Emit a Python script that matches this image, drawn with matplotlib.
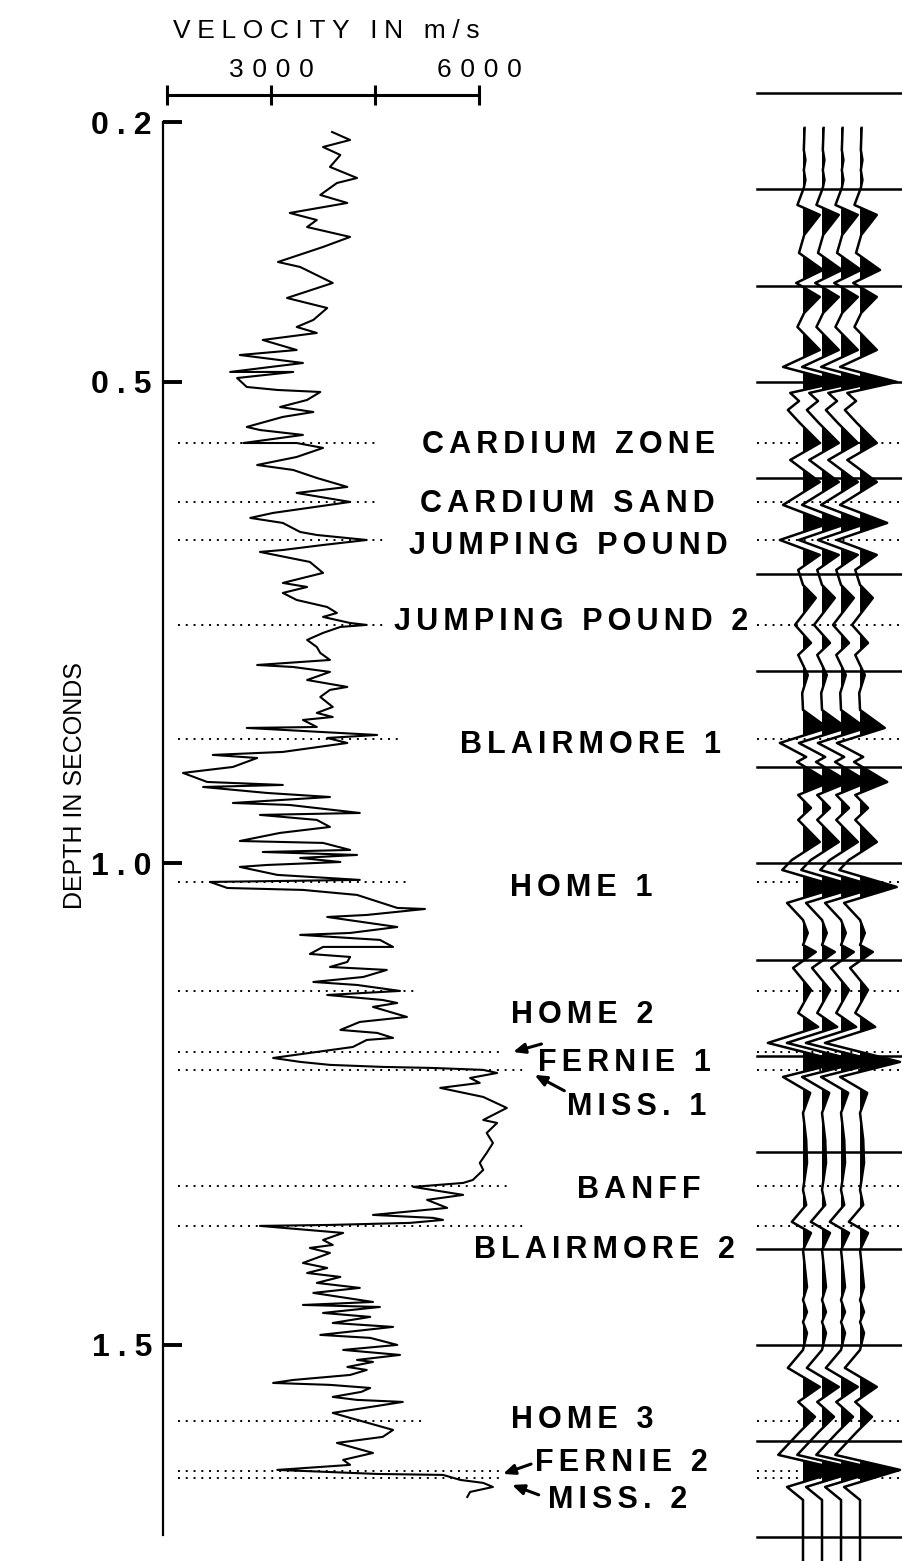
import numpy as np
import matplotlib
matplotlib.use("Agg")
import matplotlib.pyplot as plt

plt.rcParams["font.family"] = ["Liberation Sans", "DejaVu Sans"]

# ── sonic log: two-way time (s) and interval velocity (m/s) ────────────────
TWT_S = np.array([
    0.2405, 0.2488, 0.2561, 0.2644, 0.2768, 0.2883, 0.2935, 0.3059, 0.3142, 0.3246,
    0.3319, 0.3392, 0.3495, 0.3599, 0.3755, 0.3807, 0.3973, 0.4129, 0.4233, 0.4357,
    0.4430, 0.4492, 0.4565, 0.4669, 0.4721, 0.4804, 0.4897, 0.4897, 0.4960, 0.5053,
    0.5084, 0.5105, 0.5188, 0.5261, 0.5313, 0.5364, 0.5468, 0.5500, 0.5551, 0.5635,
    0.5635, 0.5686, 0.5780, 0.5863, 0.5915, 0.5998, 0.6091, 0.6154, 0.6247, 0.6361,
    0.6413, 0.6465, 0.6559, 0.6590, 0.6642, 0.6694, 0.6746, 0.6766, 0.6870, 0.6984,
    0.7088, 0.7130, 0.7192, 0.7265, 0.7338, 0.7400, 0.7441, 0.7504, 0.7524, 0.7545,
    0.7607, 0.7680, 0.7753, 0.7815, 0.7888, 0.7940, 0.7961, 0.8012, 0.8096, 0.8168,
    0.8199, 0.8272, 0.8376, 0.8438, 0.8480, 0.8511, 0.8584, 0.8594, 0.8667, 0.8698,
    0.8750, 0.8843, 0.8874, 0.8906, 0.8999, 0.9061, 0.9155, 0.9186, 0.9207, 0.9269,
    0.9311, 0.9373, 0.9394, 0.9477, 0.9497, 0.9549, 0.9622, 0.9684, 0.9768, 0.9788,
    0.9861, 0.9882, 0.9913, 0.9944, 0.9986, 1.0017, 1.0037, 1.0120, 1.0172, 1.0193,
    1.0256, 1.0276, 1.0328, 1.0463, 1.0474, 1.0536, 1.0557, 1.0661, 1.0723, 1.0743,
    1.0795, 1.0868, 1.0868, 1.0941, 1.0972, 1.1024, 1.1076, 1.1107, 1.1180, 1.1232,
    1.1263, 1.1325, 1.1367, 1.1419, 1.1450, 1.1491, 1.1595, 1.1647, 1.1730, 1.1761,
    1.1813, 1.1834, 1.1907, 1.2011, 1.2021, 1.2062, 1.2093, 1.2114, 1.2125, 1.2145,
    1.2177, 1.2229, 1.2280, 1.2332, 1.2426, 1.2540, 1.2592, 1.2665, 1.2696, 1.2800,
    1.2904, 1.3007, 1.3111, 1.3184, 1.3288, 1.3319, 1.3360, 1.3443, 1.3495, 1.3578,
    1.3651, 1.3682, 1.3703, 1.3734, 1.3755, 1.3765, 1.3838, 1.3911, 1.3963, 1.3994,
    1.4046, 1.4150, 1.4202, 1.4254, 1.4295, 1.4357, 1.4409, 1.4461, 1.4555, 1.4586,
    1.4607, 1.4669, 1.4710, 1.4773, 1.4814, 1.4897, 1.4928, 1.5001, 1.5053, 1.5105,
    1.5157, 1.5178, 1.5230, 1.5261, 1.5313, 1.5365, 1.5396, 1.5416, 1.5448, 1.5489,
    1.5541, 1.5572, 1.5593, 1.5707, 1.5759, 1.5853, 1.5884, 1.5956, 1.6019, 1.6123,
    1.6195, 1.6247, 1.6299, 1.6341, 1.6351, 1.6403, 1.6434, 1.6476, 1.6528, 1.6580,
])
VEL_MS = np.array([
    3880, 4140, 3750, 4000, 3850, 4240, 3950, 3710, 4100, 3270,
    3660, 3520, 4140, 3750, 3100, 3420, 3890, 3230, 3810, 3610,
    3370, 3660, 2880, 3370, 2550, 3460, 2410, 3320, 2510, 2650,
    3090, 3710, 3520, 3130, 3610, 3170, 2650, 2840, 3460, 2600,
    3370, 3750, 3370, 2800, 3320, 3660, 4100, 3370, 4140, 3030,
    2700, 3170, 3420, 3660, 4380, 3750, 3170, 2840, 3560, 3750,
    3170, 3520, 3170, 3370, 3810, 3950, 3750, 4140, 4380, 4000,
    3750, 3520, 3660, 3710, 3850, 2800, 3320, 3850, 3520, 4100,
    3850, 3710, 3890, 3660, 3890, 3460, 3660, 2650, 4530, 3810,
    4100, 3170, 2160, 2800, 2450, 1730, 2080, 3170, 2020, 2940,
    3850, 2450, 3270, 4280, 2840, 3660, 3850, 3130, 2550, 3750,
    4140, 2880, 4240, 3420, 4000, 2940, 2550, 3090, 4280, 2120,
    2370, 3460, 4240, 4820, 5220, 4380, 3810, 4820, 4140, 3420,
    4570, 4760, 3750, 3560, 4140, 4100, 3850, 4670, 4330, 3610,
    4240, 4860, 3810, 4610, 4820, 4470, 4960, 4280, 4000, 4530,
    4760, 4380, 4180, 3130, 3030, 3420, 3850, 4610, 5340, 6060,
    6260, 5870, 6010, 5440, 6060, 6400, 6260, 6060, 6260, 6110,
    6200, 6110, 6010, 6060, 5910, 5770, 5050, 5770, 5250, 5540,
    4470, 5340, 5480, 5000, 3850, 2840, 4040, 3750, 3890, 3560,
    3850, 3460, 3810, 3520, 4000, 3660, 4280, 3610, 4470, 3460,
    4570, 3750, 4430, 3890, 4760, 3710, 4430, 4820, 4040, 4860,
    4240, 4470, 4100, 4380, 4140, 3320, 3030, 3850, 4430, 4300,
    3890, 4240, 4900, 3890, 4140, 4610, 4760, 4610, 3950, 4470,
    4040, 4140, 3090, 4530, 5480, 5730, 6060, 6200, 5870, 5830,
])

# ── formation tops (s) and where their markers stop on the log side (m/s) ──
TOP_TWT = [0.5635, 0.6247, 0.6642, 0.7524, 0.8708, 1.0193, 1.1325,
           1.1959, 1.2145, 1.3350, 1.3765, 1.5790, 1.6310, 1.6382]
TOP_END_VEL = [4530, 4530, 4610, 4610, 4860, 4970, 5100,
               6340, 6700, 6470, 6700, 5220, 6340, 6340]

# formation names with their label positions (axes fraction, s)
LABELS = ["CARDIUM ZONE", "CARDIUM SAND", "JUMPING POUND", "JUMPING POUND 2",
          "BLAIRMORE 1", "HOME 1", "HOME 2", "FERNIE 1", "MISS. 1", "BANFF",
          "BLAIRMORE 2", "HOME 3", "FERNIE 2", "MISS. 2"]
LABEL_X = [0.683, 0.680, 0.683, 0.687, 0.719, 0.704, 0.705,
           0.776, 0.797, 0.801, 0.744, 0.706, 0.771, 0.765]
LABEL_TWT = [0.5655, 0.6269, 0.6704, 0.7493, 0.8770, 1.0256, 1.1574,
             1.2073, 1.2529, 1.3392, 1.4015, 1.5780, 1.6227, 1.6611]

# arrows: (tail velocity, tail time) -> (head velocity, head time)
ARROWS = [((6900, 1.1876), (6490, 1.1959)),
          ((7230, 1.2362), (6800, 1.2197)),
          ((6750, 1.6238), (6345, 1.6341)),
          ((6860, 1.6558), (6475, 1.6455))]

# ── synthetic seismogram: time (s) and normalised amplitude ────────────────
SYN_TWT = [0.2363, 0.2592, 0.2696, 0.2800, 0.2904, 0.2986, 0.3163, 0.3266, 0.3474, 0.3661,
           0.3838, 0.3973, 0.4118, 0.4284, 0.4430, 0.4669, 0.4845, 0.5001, 0.5115, 0.5199,
           0.5292, 0.5427, 0.5635, 0.5811, 0.6040, 0.6278, 0.6465, 0.6642, 0.6797, 0.6953,
           0.7109, 0.7244, 0.7524, 0.7711, 0.7836, 0.8044, 0.8231, 0.8407, 0.8594, 0.8750,
           0.8895, 0.8947, 0.9155, 0.9290, 0.9425, 0.9549, 0.9778, 0.9965, 1.0069, 1.0245,
           1.0411, 1.0588, 1.0723, 1.0848, 1.0920, 1.1086, 1.1314, 1.1554, 1.1699, 1.1865,
           1.2062, 1.2218, 1.2384, 1.2592, 1.2872, 1.3111, 1.3391, 1.3547, 1.3723, 1.3838,
           1.4015, 1.4399, 1.4534, 1.4659, 1.4763, 1.4877, 1.5053, 1.5240, 1.5437, 1.5593,
           1.5748, 1.5904, 1.6143, 1.6299, 1.6476, 1.6611, 1.7245]
SYN_AMP = [0.04, 0.02, 0.06, 0.02, 0.06, 0.02, -0.14, 0.42, 0.03, -0.10,
           0.50, -0.17, 0.42, 0.03, -0.14, 0.42, -0.50, 0.92, -0.32, -0.10,
           -0.38, -0.08, 0.42, -0.32, 0.42, -0.50, 0.68, -0.58, 0.42, -0.12,
           0.00, 0.32, -0.20, 0.20, -0.12, 0.12, -0.02, 0.00, 0.62, -0.58,
           0.08, -0.15, 0.68, -0.12, 0.20, -0.12, 0.42, -0.28, -0.52, 0.92,
           -0.40, 0.00, 0.12, 0.00, 0.32, -0.25, 0.20, -0.12, 0.38, -0.88,
           1.00, -0.50, 0.18, 0.00, 0.08, 0.10, 0.00, 0.08, -0.28, 0.20,
           0.00, 0.10, 0.00, 0.10, 0.00, 0.10, 0.00, -0.38, 0.42, -0.12,
           0.30, -0.08, -0.62, 1.00, -0.40, 0.00, 0.00]

TIMING_LINES = [0.2, 0.3, 0.4, 0.5, 0.6, 0.7, 0.8, 0.9,
                1.0, 1.1, 1.2, 1.3, 1.4, 1.5, 1.6, 1.7]
N_TRACES = 4
GAIN = 2.1          # trace spacings per unit amplitude

VEL_TICKS = [1500, 3000, 4500, 6000]
VEL_TICK_LABELS = ["", "3000", "", "6000"]
TWT_TICKS = [0.2304, 0.5, 1.0, 1.5]
TWT_TICK_LABELS = ["0.2", "0.5", "1.0", "1.5"]

T_TOP, T_BOT = 0.2021, 1.7245


def spaced(s, gap="\u2006"):
    """Letter-spaced caption, as on old drafted figures."""
    return gap.join(s)


W, H = 903, 1561
fig = plt.figure(figsize=(W / 100, H / 100), dpi=100)
fig.patch.set_facecolor("white")


def box(x0, y0, x1, y1):
    return [x0 / W, 1 - y1 / H, (x1 - x0) / W, (y1 - y0) / H]


# ── velocity log panel ─────────────────────────────────────────────────────
ax = fig.add_axes(box(163, 95, 757, 1561))
ax.set_xlim(1442, 10008)
ax.set_ylim(T_BOT, T_TOP)
ax.plot(VEL_MS, TWT_S, color="k", lw=1.5)

for sp in ("right", "bottom"):
    ax.spines[sp].set_visible(False)
ax.spines["left"].set_bounds(TWT_TICKS[0], 1.697)
ax.spines["left"].set_linewidth(1.6)
ax.spines["top"].set_bounds(VEL_TICKS[0], VEL_TICKS[-1])
ax.spines["top"].set_linewidth(2.2)

ax.xaxis.set_ticks_position("top")
ax.set_xticks(VEL_TICKS)
ax.set_xticklabels([spaced(s, "\u2004") for s in VEL_TICK_LABELS], fontsize=19)
ax.tick_params(axis="x", direction="inout", length=15, width=2.2, pad=2)
ax.set_yticks(TWT_TICKS)
ax.set_yticklabels([spaced(s, "\u2005") for s in TWT_TICK_LABELS],
                   fontsize=23, fontweight="bold")
ax.tick_params(axis="y", direction="in", length=14, width=2.8, pad=8)

fig.text(326 / W, 1 - 31 / H, spaced("VELOCITY IN m/s", "\u2005"),
         fontsize=19, ha="center", va="center")
ax.set_ylabel("DEPTH IN SECONDS", fontsize=18)
ax.yaxis.set_label_coords(-0.128, 0.529)

dots = (0, (1, 3))
for t, v_end in zip(TOP_TWT, TOP_END_VEL):
    ax.plot([1660, v_end], [t, t], color="k", lw=1.4, ls=dots)

ytrans = ax.get_yaxis_transform()
for name, x, t in zip(LABELS, LABEL_X, LABEL_TWT):
    ax.text(x, t, spaced(name), transform=ytrans, ha="center", va="center",
            fontsize=22, fontweight="bold", clip_on=False)

for tail, head in ARROWS:
    ax.annotate("", xy=head, xytext=tail,
                arrowprops=dict(arrowstyle="-|>,head_length=0.7,head_width=0.3",
                                color="k", lw=2.2, shrinkA=0, shrinkB=0))

# ── synthetic seismogram panel ─────────────────────────────────────────────
axs = fig.add_axes(box(757, 95, 903, 1561))
axs.set_xlim(-2.42, 5.26)
axs.set_ylim(T_BOT, T_TOP)
axs.axis("off")

for t in TIMING_LINES:
    axs.axhline(t, color="k", lw=1.8, clip_on=False)
for t in TOP_TWT:
    axs.axhline(t, color="k", lw=1.4, ls=dots)

syn_t = np.array(SYN_TWT)
syn_a = np.array(SYN_AMP) * GAIN
for k in range(N_TRACES):
    x = k + syn_a
    axs.fill_betweenx(syn_t, k, x, where=x > k, interpolate=True,
                      color="k", lw=0)
    axs.plot(x, syn_t, color="k", lw=1.8)

fig.savefig("out.png", dpi=100, facecolor="white")
